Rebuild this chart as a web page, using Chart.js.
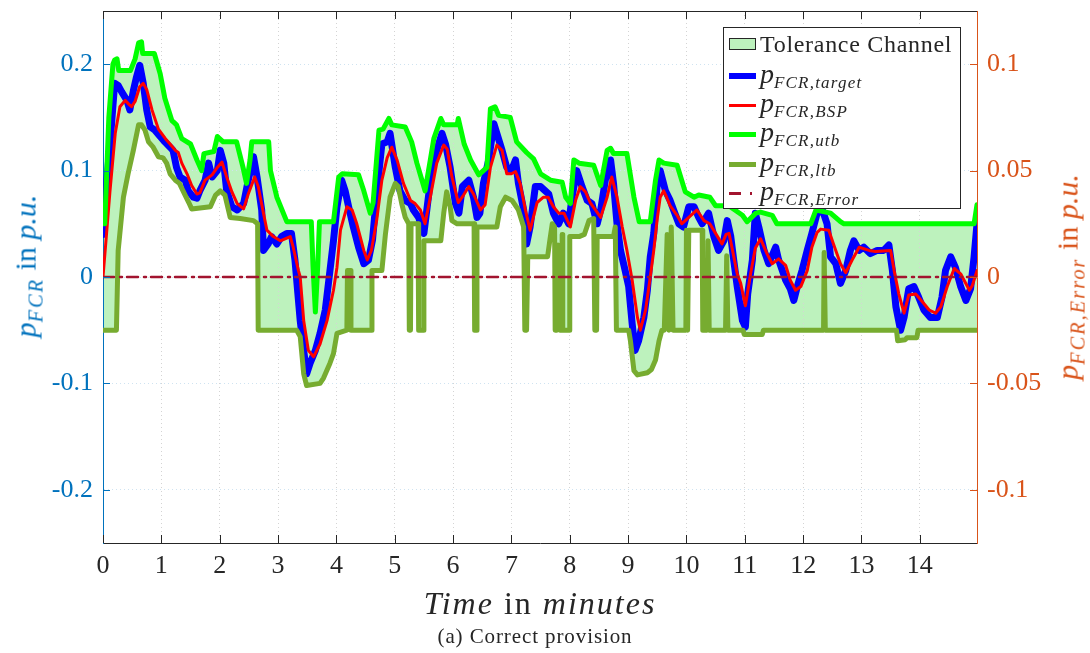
<!DOCTYPE html>
<html>
<head>
<meta charset="utf-8">
<title>FCR provision</title>
<script src="https://cdn.jsdelivr.net/npm/chart.js@4.4.0/dist/chart.umd.min.js"></script>
<style>
  body { margin: 0; background: #fff; }
  #wrap { position: relative; width: 1090px; height: 653px; font-family: 'Liberation Serif', 'DejaVu Serif', serif; color: #262626; }
  #chart { position: absolute; left: 0; top: 0; }
  .vlabel { position: absolute; white-space: nowrap; line-height: 1; font-size: 30px; transform: translate(-50%, -50%) rotate(-90deg); }
  .sb { font-style: italic; font-size: 0.68em; vertical-align: -0.32em; letter-spacing: 2px; }
  #xtitle { position: absolute; left: 540px; top: 603px; transform: translate(-50%, -50%); font-size: 32px; letter-spacing: 2px; white-space: nowrap; line-height: 1; }
  #caption { position: absolute; left: 535px; top: 636px; transform: translate(-50%, -50%); font-size: 21px; letter-spacing: 0.9px; white-space: nowrap; line-height: 1; }
  #legend { position: absolute; left: 723px; top: 27px; width: 238px; height: 182px; box-sizing: border-box; border: 1px solid #262626; background: #fff; }
  .row { position: absolute; left: 5px; height: 28px; display: flex; align-items: center; white-space: nowrap; }
  .key { width: 27px; margin-right: 4px; flex: none; }
  .row .txt { font-size: 24px; letter-spacing: 0.7px; }
  .row .m { font-size: 28px; font-style: italic; }
  .row .m .sb { font-size: 17px; letter-spacing: 1.2px; vertical-align: -0.3em; }
</style>
</head>
<body>
<div id="wrap">
  <canvas id="chart" width="1090" height="653"></canvas>

  <div class="vlabel" style="left:28px; top:266px; color:#0072BD;"><i>p</i><span class="sb">FCR</span> in <i>p.u.</i></div>
  <div class="vlabel" style="left:1070px; top:277px; color:#D95319;"><i>p</i><span class="sb">FCR,Error</span> in <i>p.u.</i></div>
  <div id="xtitle"><i>Time</i> in <i>minutes</i></div>
  <div id="caption">(a) Correct provision</div>

  <div id="legend">
    <div class="row" style="top:2px"><span class="key" style="height:12px; background:#bdf2bd; border:1px solid #262626; box-sizing:border-box;"></span><span class="txt">Tolerance Channel</span></div>
    <div class="row" style="top:34px"><span class="key" style="height:6px; background:#0000ff;"></span><span class="m">p<span class="sb">FCR,target</span></span></div>
    <div class="row" style="top:63px"><span class="key" style="height:3px; background:#ff0000;"></span><span class="m">p<span class="sb">FCR,BSP</span></span></div>
    <div class="row" style="top:92px"><span class="key" style="height:5px; background:#00ff00;"></span><span class="m">p<span class="sb">FCR,utb</span></span></div>
    <div class="row" style="top:122px"><span class="key" style="height:5px; background:#77AC30;"></span><span class="m">p<span class="sb">FCR,ltb</span></span></div>
    <div class="row" style="top:151px"><span class="key" style="height:3px; background:linear-gradient(to right, #A2142F 0 12px, transparent 12px 21px, #A2142F 21px 23px, transparent 23px);"></span><span class="m">p<span class="sb">FCR,Error</span></span></div>
  </div>
</div>

<script>
// axis ticks
const timeTicks = [0, 1, 2, 3, 4, 5, 6, 7, 8, 9, 10, 11, 12, 13, 14];
const powerTicks = [-0.2, -0.1, 0, 0.1, 0.2];
const errorTicks = [-0.1, -0.05, 0, 0.05, 0.1];

// [minute, p.u.] samples of each signal
const targetSeries = [
  [0, 0.04], [0.05, 0.08], [0.12, 0.125], [0.2, 0.182], [0.26, 0.18], [0.32, 0.174], [0.41, 0.166], [0.46, 0.157], [0.52, 0.175], [0.57, 0.187],
  [0.63, 0.199], [0.69, 0.182], [0.75, 0.157], [0.81, 0.141], [0.89, 0.138], [0.98, 0.132], [1.06, 0.127], [1.15, 0.122], [1.2, 0.119], [1.26, 0.103],
  [1.32, 0.094], [1.41, 0.091], [1.46, 0.081], [1.55, 0.075], [1.61, 0.074], [1.66, 0.081], [1.75, 0.091], [1.81, 0.107], [1.87, 0.094], [1.96, 0.1],
  [2.01, 0.119], [2.07, 0.107], [2.12, 0.081], [2.21, 0.066], [2.3, 0.063], [2.41, 0.069], [2.49, 0.091], [2.58, 0.113], [2.64, 0.094], [2.72, 0.063],
  [2.75, 0.025], [2.83, 0.031], [2.89, 0.038], [2.98, 0.031], [3.06, 0.038], [3.15, 0.041], [3.23, 0.041], [3.29, 0.016], [3.32, -0.003], [3.38, -0.041],
  [3.44, -0.069], [3.49, -0.091], [3.55, -0.081], [3.64, -0.069], [3.72, -0.053], [3.81, -0.031], [3.89, 0.006], [3.95, 0.034], [4.01, 0.066], [4.09, 0.091],
  [4.15, 0.081], [4.21, 0.066], [4.29, 0.047], [4.38, 0.028], [4.47, 0.0125], [4.55, 0.016], [4.62, 0.035], [4.69, 0.078], [4.78, 0.125], [4.87, 0.127],
  [4.92, 0.135], [5.01, 0.103], [5.09, 0.081], [5.18, 0.072], [5.27, 0.069], [5.32, 0.063], [5.41, 0.056], [5.5, 0.041], [5.55, 0.063], [5.64, 0.103],
  [5.72, 0.119], [5.81, 0.135], [5.87, 0.125], [5.95, 0.103], [6.04, 0.069], [6.1, 0.06], [6.16, 0.085], [6.27, 0.091], [6.35, 0.075], [6.41, 0.056],
  [6.46, 0.06], [6.52, 0.088], [6.61, 0.11], [6.7, 0.144], [6.75, 0.135], [6.84, 0.119], [6.92, 0.103], [7.0, 0.1], [7.07, 0.11], [7.12, 0.088],
  [7.21, 0.063], [7.26, 0.031], [7.32, 0.047], [7.41, 0.085], [7.5, 0.085], [7.58, 0.081], [7.64, 0.078], [7.72, 0.06], [7.81, 0.05], [7.89, 0.06],
  [7.98, 0.05], [8.04, 0.075], [8.12, 0.1], [8.21, 0.085], [8.3, 0.072], [8.38, 0.069], [8.47, 0.05], [8.53, 0.063], [8.61, 0.091], [8.7, 0.11],
  [8.75, 0.088], [8.81, 0.05], [8.87, 0.025], [8.95, 0.006], [9.01, -0.009], [9.07, -0.044], [9.12, -0.069], [9.18, -0.06], [9.27, -0.038], [9.33, -0.0125],
  [9.38, 0.019], [9.44, 0.041], [9.5, 0.088], [9.55, 0.1], [9.64, 0.081], [9.72, 0.072], [9.78, 0.063], [9.87, 0.05], [9.95, 0.047], [10.04, 0.066],
  [10.13, 0.066], [10.21, 0.056], [10.27, 0.05], [10.38, 0.06], [10.47, 0.038], [10.55, 0.025], [10.64, 0.034], [10.7, 0.053], [10.76, 0.038], [10.81, 0.016],
  [10.87, -0.009], [10.96, -0.041], [11.01, -0.047], [11.05, -0.016], [11.13, 0.016], [11.18, 0.06], [11.24, 0.047], [11.33, 0.025], [11.41, 0.0125], [11.53, 0.028],
  [11.58, 0.016], [11.7, -0.003], [11.78, -0.011], [11.84, -0.022], [11.9, -0.009], [11.98, 0.006], [12.07, 0.025], [12.15, 0.041], [12.24, 0.06], [12.33, 0.063],
  [12.41, 0.05], [12.47, 0.019], [12.56, 0.0125], [12.64, -0.006], [12.73, 0.006], [12.81, 0.025], [12.87, 0.034], [12.96, 0.025], [13.04, 0.028], [13.15, 0.022],
  [13.27, 0.025], [13.38, 0.025], [13.47, 0.03], [13.53, 0.006], [13.59, -0.028], [13.67, -0.05], [13.73, -0.038], [13.81, -0.011], [13.9, -0.009], [13.98, -0.019],
  [14.07, -0.031], [14.18, -0.038], [14.3, -0.038], [14.38, -0.019], [14.44, 0.006], [14.53, 0.019], [14.61, 0.009], [14.7, -0.009], [14.79, -0.022], [14.87, -0.011],
  [14.93, 0.019], [14.98, 0.05]
];

const bspSeries = [
  [0, 0], [0.06, 0.04], [0.12, 0.081], [0.21, 0.135], [0.29, 0.16], [0.38, 0.166], [0.45, 0.162], [0.49, 0.16], [0.55, 0.165], [0.63, 0.179],
  [0.69, 0.182], [0.75, 0.176], [0.84, 0.157], [0.95, 0.139], [1.07, 0.13], [1.15, 0.125], [1.24, 0.119], [1.29, 0.117], [1.35, 0.107], [1.44, 0.097],
  [1.52, 0.086], [1.61, 0.078], [1.66, 0.079], [1.75, 0.091], [1.87, 0.096], [1.96, 0.103], [2.04, 0.108], [2.12, 0.094], [2.21, 0.08], [2.3, 0.069],
  [2.41, 0.064], [2.49, 0.078], [2.6, 0.094], [2.66, 0.085], [2.75, 0.06], [2.81, 0.044], [2.92, 0.038], [3.04, 0.034], [3.21, 0.038], [3.26, 0.028],
  [3.35, 0.006], [3.38, 0], [3.44, -0.041], [3.52, -0.069], [3.61, -0.075], [3.72, -0.063], [3.84, -0.041], [3.95, -0.0125], [4.01, 0.009], [4.07, 0.044],
  [4.18, 0.066], [4.27, 0.063], [4.35, 0.05], [4.47, 0.025], [4.53, 0.016], [4.6, 0.025], [4.69, 0.053], [4.78, 0.091], [4.87, 0.112], [4.95, 0.122],
  [5.04, 0.11], [5.15, 0.088], [5.27, 0.072], [5.35, 0.069], [5.44, 0.063], [5.52, 0.05], [5.61, 0.075], [5.72, 0.107], [5.84, 0.124], [5.9, 0.12],
  [5.98, 0.094], [6.09, 0.07], [6.18, 0.077], [6.27, 0.085], [6.35, 0.078], [6.47, 0.063], [6.55, 0.068], [6.64, 0.103], [6.75, 0.124], [6.84, 0.119],
  [6.92, 0.097], [7.0, 0.097], [7.07, 0.099], [7.15, 0.088], [7.24, 0.063], [7.32, 0.044], [7.44, 0.07], [7.55, 0.075], [7.63, 0.075], [7.72, 0.066],
  [7.81, 0.06], [7.9, 0.06], [8.01, 0.047], [8.1, 0.072], [8.18, 0.085], [8.27, 0.08], [8.35, 0.07], [8.44, 0.063], [8.53, 0.056], [8.64, 0.075],
  [8.72, 0.094], [8.81, 0.075], [8.9, 0.047], [8.98, 0.025], [9.07, -0.003], [9.16, -0.038], [9.21, -0.05], [9.3, -0.031], [9.38, 0], [9.44, 0.025],
  [9.5, 0.055], [9.55, 0.075], [9.61, 0.081], [9.66, 0.075], [9.72, 0.067], [9.84, 0.058], [9.92, 0.05], [10.04, 0.056], [10.18, 0.063], [10.3, 0.053],
  [10.4, 0.05], [10.5, 0.041], [10.61, 0.031], [10.68, 0.04], [10.73, 0.041], [10.79, 0.025], [10.87, 0.003], [10.93, -0.006], [11.01, -0.027], [11.1, 0.003],
  [11.18, 0.027], [11.27, 0.036], [11.38, 0.022], [11.47, 0.0125], [11.58, 0.017], [11.7, 0.011], [11.78, -0.003], [11.87, -0.0125], [11.96, -0.009], [12.07, 0.006],
  [12.15, 0.028], [12.24, 0.042], [12.3, 0.045], [12.44, 0.044], [12.52, 0.031], [12.64, 0.0125], [12.73, 0.004], [12.84, 0.016], [12.96, 0.028], [13.13, 0.025],
  [13.24, 0.024], [13.5, 0.025], [13.56, 0.006], [13.64, -0.016], [13.73, -0.034], [13.81, -0.017], [13.93, -0.016], [14.04, -0.023], [14.16, -0.031], [14.27, -0.034],
  [14.36, -0.028], [14.47, -0.009], [14.59, 0.008], [14.7, 0.003], [14.85, -0.0125], [14.9, -0.008], [14.98, 0.006]
];

const utbSeries = [
  [0, 0.05], [0.03, 0.05], [0.1, 0.15], [0.17, 0.2], [0.2, 0.204], [0.24, 0.205], [0.27, 0.194], [0.47, 0.194], [0.55, 0.205], [0.61, 0.22],
  [0.66, 0.221], [0.68, 0.21], [0.88, 0.21], [0.98, 0.191], [1.06, 0.168], [1.18, 0.147], [1.22, 0.145], [1.26, 0.143], [1.35, 0.13], [1.5, 0.125],
  [1.61, 0.11], [1.69, 0.1], [1.73, 0.116], [1.9, 0.118], [1.96, 0.132], [2.06, 0.127], [2.29, 0.127], [2.4, 0.103], [2.46, 0.088], [2.52, 0.11],
  [2.55, 0.127], [2.84, 0.127], [2.87, 0.1], [2.98, 0.075], [3.15, 0.052], [3.57, 0.052], [3.6, 0.01], [3.64, -0.033], [3.68, 0.01], [3.71, 0.052],
  [3.95, 0.052], [4.04, 0.094], [4.1, 0.097], [4.38, 0.096], [4.47, 0.081], [4.58, 0.06], [4.63, 0.07], [4.73, 0.138], [4.8, 0.139], [4.9, 0.149],
  [4.95, 0.143], [5.18, 0.141], [5.29, 0.127], [5.38, 0.107], [5.52, 0.081], [5.61, 0.11], [5.67, 0.13], [5.79, 0.149], [5.84, 0.143], [6.07, 0.143],
  [6.09, 0.149], [6.19, 0.125], [6.3, 0.11], [6.44, 0.096], [6.58, 0.103], [6.64, 0.158], [6.72, 0.16], [6.78, 0.152], [6.98, 0.15], [7.09, 0.127],
  [7.26, 0.117], [7.38, 0.111], [7.5, 0.097], [7.67, 0.091], [7.87, 0.089], [7.93, 0.075], [8.01, 0.069], [8.07, 0.11], [8.16, 0.107], [8.41, 0.105],
  [8.53, 0.086], [8.64, 0.119], [8.7, 0.121], [8.75, 0.116], [8.98, 0.116], [9.1, 0.075], [9.19, 0.052], [9.38, 0.052], [9.47, 0.091], [9.53, 0.11],
  [9.61, 0.107], [9.84, 0.105], [9.98, 0.08], [10.13, 0.075], [10.21, 0.077], [10.4, 0.075], [10.5, 0.067], [10.64, 0.067], [10.75, 0.066], [10.96, 0.058],
  [11.04, 0.052], [11.19, 0.06], [11.27, 0.061], [11.47, 0.058], [11.55, 0.05], [12.13, 0.05], [12.22, 0.063], [12.47, 0.06], [12.64, 0.052], [12.7, 0.05],
  [14.93, 0.05], [14.98, 0.068]
];

const ltbSeries = [
  [0, -0.05], [0.23, -0.05], [0.26, 0.025], [0.35, 0.075], [0.43, 0.097], [0.52, 0.119], [0.61, 0.143], [0.66, 0.143], [0.72, 0.138], [0.78, 0.127],
  [0.86, 0.122], [0.95, 0.113], [1.03, 0.112], [1.09, 0.107], [1.15, 0.097], [1.24, 0.091], [1.31, 0.088], [1.38, 0.08], [1.47, 0.07], [1.52, 0.064],
  [1.84, 0.066], [1.93, 0.077], [2.01, 0.081], [2.09, 0.077], [2.18, 0.056], [2.35, 0.055], [2.58, 0.053], [2.65, 0.05], [2.66, -0.05], [3.32, -0.05],
  [3.38, -0.056], [3.44, -0.091], [3.49, -0.102], [3.72, -0.1], [3.78, -0.095], [3.89, -0.081], [3.95, -0.072], [4.01, -0.053], [4.18, -0.05], [4.19, 0.006],
  [4.24, 0.006], [4.25, -0.05], [4.6, -0.05], [4.61, 0.006], [4.78, 0.006], [4.84, 0.04], [4.92, 0.075], [5.01, 0.088], [5.06, 0.085], [5.12, 0.069],
  [5.18, 0.056], [5.24, 0.05], [5.25, -0.05], [5.27, -0.05], [5.28, 0.05], [5.4, 0.05], [5.41, -0.05], [5.49, -0.05], [5.5, 0.034], [5.79, 0.034],
  [5.84, 0.06], [5.89, 0.08], [5.95, 0.066], [5.98, 0.053], [6.07, 0.05], [6.36, 0.05], [6.37, -0.05], [6.4, -0.05], [6.41, 0.047], [6.75, 0.047],
  [6.81, 0.066], [6.9, 0.075], [7.01, 0.072], [7.12, 0.063], [7.21, 0.047], [7.23, -0.05], [7.26, -0.05], [7.28, 0.019], [7.62, 0.019], [7.66, 0.035],
  [7.7, 0.05], [7.74, 0.047], [7.75, -0.05], [7.78, -0.05], [7.8, 0.03], [7.83, -0.05], [7.86, -0.05], [7.87, 0.04], [7.88, -0.05], [7.99, -0.05],
  [8.0, 0.038], [8.16, 0.038], [8.25, 0.04], [8.33, 0.053], [8.41, 0.055], [8.43, -0.05], [8.46, -0.05], [8.47, 0.038], [8.75, 0.038], [8.78, 0.047],
  [8.8, -0.05], [9.01, -0.05], [9.04, -0.06], [9.1, -0.088], [9.16, -0.092], [9.33, -0.09], [9.4, -0.087], [9.47, -0.078], [9.53, -0.06], [9.58, -0.05],
  [9.62, -0.05], [9.67, 0.04], [9.7, -0.05], [9.74, 0.047], [9.77, -0.05], [9.99, -0.05], [10.0, 0.044], [10.02, -0.05], [10.04, 0.044], [10.27, 0.044],
  [10.28, -0.05], [10.35, -0.05], [10.37, 0.034], [10.39, -0.05], [10.67, -0.05], [10.69, 0.02], [10.71, -0.05], [10.97, -0.05], [10.99, -0.054], [11.3, -0.054],
  [11.32, -0.05], [12.35, -0.05], [12.36, 0.023], [12.38, -0.05], [13.6, -0.05], [13.62, -0.06], [13.75, -0.059], [13.78, -0.057], [13.95, -0.057], [13.97, -0.05],
  [14.98, -0.05]
];

const errorSeries = [[0, 0], [14.98, 0]];

const toPoints = s => s.map(([x, y]) => ({ x, y }));

// box edge on top plus MATLAB-style inward tick marks
const axesFrame = {
  id: 'axesFrame',
  afterDraw(chart) {
    const { ctx, chartArea: a, scales } = chart;
    ctx.save();
    ctx.lineWidth = 1;
    ctx.strokeStyle = '#262626';
    ctx.beginPath();
    ctx.moveTo(a.left, Math.round(a.top) + 0.5);
    ctx.lineTo(a.right, Math.round(a.top) + 0.5);
    timeTicks.forEach(t => {
      const px = Math.round(scales.x.getPixelForValue(t)) + 0.5;
      ctx.moveTo(px, a.bottom);
      ctx.lineTo(px, a.bottom - 8);
      ctx.moveTo(px, a.top);
      ctx.lineTo(px, a.top + 8);
    });
    ctx.stroke();

    ctx.strokeStyle = '#0072BD';
    ctx.beginPath();
    powerTicks.forEach(v => {
      const py = Math.round(scales.y.getPixelForValue(v)) + 0.5;
      ctx.moveTo(a.left, py);
      ctx.lineTo(a.left + 7, py);
    });
    ctx.stroke();

    ctx.strokeStyle = '#D95319';
    ctx.beginPath();
    errorTicks.forEach(v => {
      const py = Math.round(scales.y2.getPixelForValue(v)) + 0.5;
      ctx.moveTo(a.right, py);
      ctx.lineTo(a.right - 7, py);
    });
    ctx.stroke();
    ctx.restore();
  }
};

const tickFont = { family: "'Liberation Serif', serif", size: 26 };

// fixed axis sizes so the plot box lands where it should
const fixWidth = w => s => { s.width = w; s.paddingTop = 0; s.paddingBottom = 0; };

new Chart(document.getElementById('chart'), {
  type: 'line',
  data: {
    datasets: [
      {
        label: 'p_FCR,target', data: toPoints(targetSeries), order: 4,
        borderColor: '#0000ff', borderWidth: 7, yAxisID: 'y'
      },
      {
        label: 'p_FCR,BSP', data: toPoints(bspSeries), order: 3,
        borderColor: '#ff0000', borderWidth: 3, yAxisID: 'y'
      },
      {
        label: 'p_FCR,utb', data: toPoints(utbSeries), order: 2,
        borderColor: '#00ff00', borderWidth: 5, yAxisID: 'y',
        fill: 3, backgroundColor: '#bdf2bd'
      },
      {
        label: 'p_FCR,ltb', data: toPoints(ltbSeries), order: 1,
        borderColor: '#77AC30', borderWidth: 5, yAxisID: 'y'
      },
      {
        label: 'p_FCR,Error', data: toPoints(errorSeries), order: 0,
        borderColor: '#A2142F', borderWidth: 2.5, borderDash: [11, 6, 2, 5], yAxisID: 'y2'
      }
    ]
  },
  options: {
    responsive: false,
    animation: false,
    events: [],
    layout: { padding: { top: 11, left: 0, right: 0, bottom: 0 } },
    elements: {
      point: { radius: 0 },
      line: { tension: 0, borderJoinStyle: 'round', borderCapStyle: 'round', fill: false }
    },
    plugins: {
      legend: { display: false },
      tooltip: { enabled: false },
      filler: { drawTime: 'beforeDraw' }
    },
    scales: {
      x: {
        type: 'linear', min: 0, max: 14.98,
        afterFit: s => { s.height = 110; s.paddingLeft = 0; s.paddingRight = 0; },
        afterBuildTicks: s => { s.ticks = timeTicks.map(value => ({ value })); },
        ticks: { color: '#262626', font: tickFont, padding: 8, maxRotation: 0, callback: v => String(v) },
        grid: { color: '#d4d4d4', drawTicks: false, lineWidth: 1 },
        border: { color: '#262626', dash: [1, 3] }
      },
      y: {
        position: 'left', min: -0.25, max: 0.25,
        afterFit: fixWidth(103),
        afterBuildTicks: s => { s.ticks = powerTicks.map(value => ({ value })); },
        ticks: { color: '#0072BD', font: tickFont, padding: 10, callback: v => String(v) },
        grid: { color: '#cfe3f1', drawTicks: false, lineWidth: 1 },
        border: { color: '#0072BD', dash: [1, 3] }
      },
      y2: {
        position: 'right', min: -0.125, max: 0.125,
        afterFit: fixWidth(113),
        afterBuildTicks: s => { s.ticks = errorTicks.map(value => ({ value })); },
        ticks: { color: '#D95319', font: tickFont, padding: 10, callback: v => String(v) },
        grid: { drawOnChartArea: false, drawTicks: false },
        border: { color: '#D95319' }
      }
    }
  },
  plugins: [axesFrame]
});
</script>
</body>
</html>
